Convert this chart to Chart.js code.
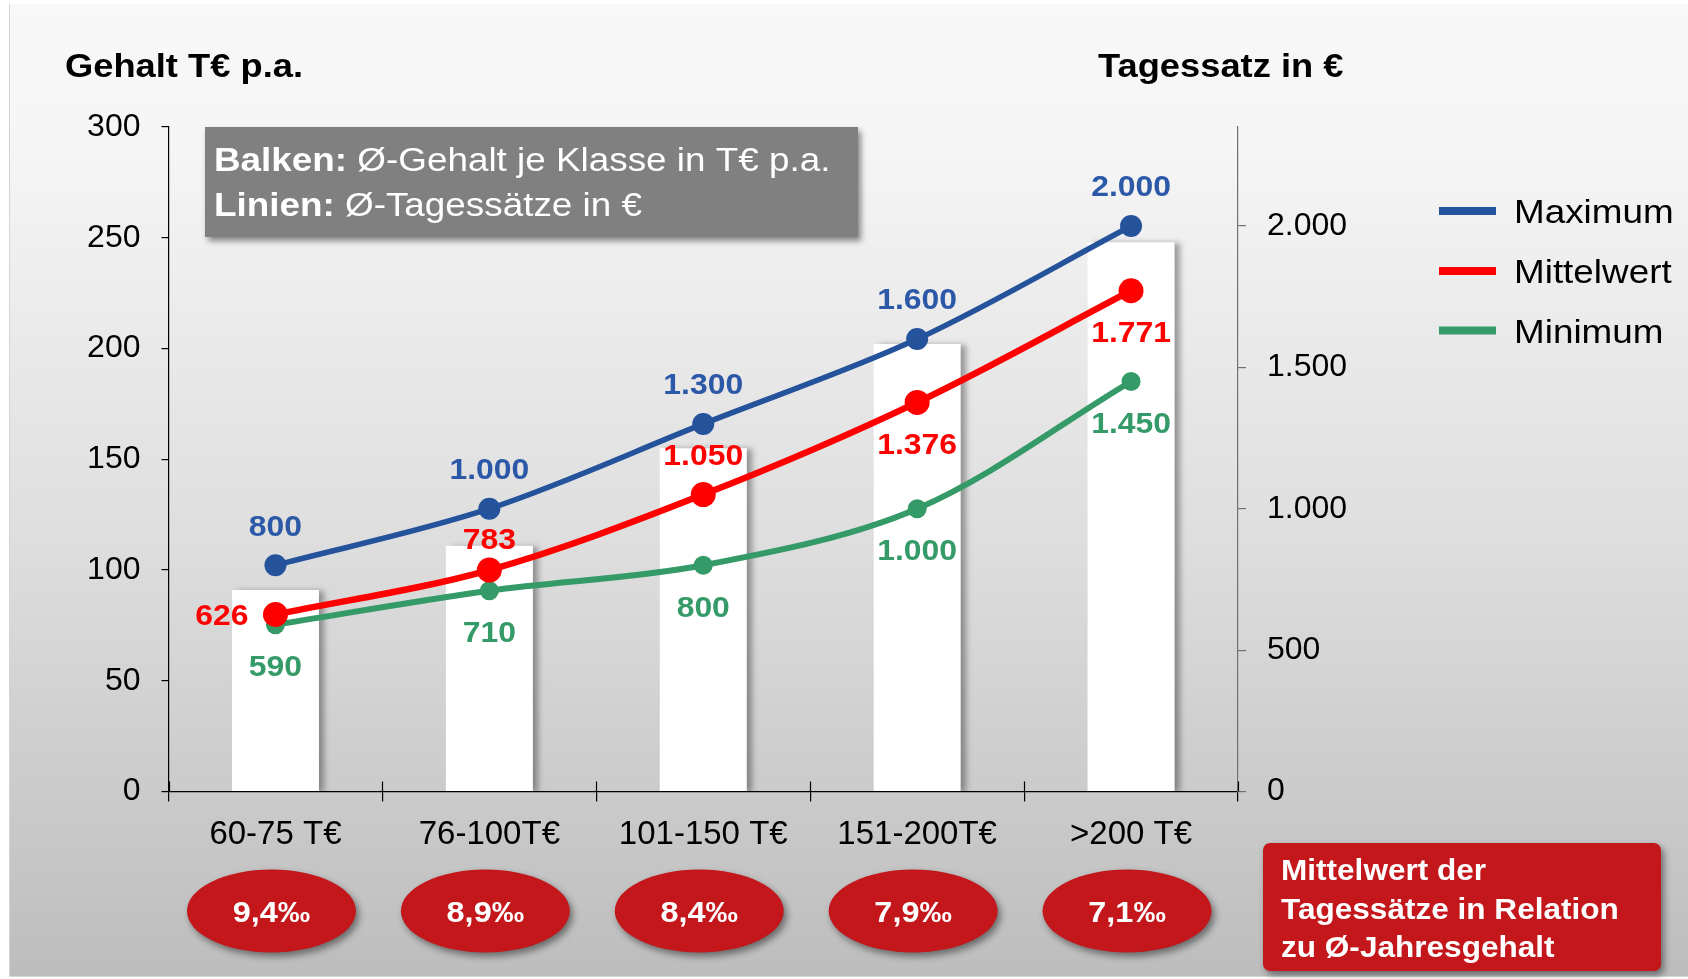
<!DOCTYPE html>
<html>
<head>
<meta charset="utf-8">
<script src="https://cdn.jsdelivr.net/npm/chart.js@4.4.1/dist/chart.umd.min.js"></script>
<style>
  html, body { margin: 0; padding: 0; background: #ffffff; }
  #wrap { width: 1688px; height: 979px; }
  canvas { display: block; }
</style>
</head>
<body>
<div id="wrap"><canvas id="c" width="1688" height="979"></canvas></div>
<script>
// ---- data ----
const categories = ['60-75 T€', '76-100T€', '101-150 T€', '151-200T€', '>200 T€'];
const salaryBars = [91, 111, 155, 202, 248];          // Ø-Gehalt je Klasse in T€ p.a.
const maxRates   = [800, 1000, 1300, 1600, 2000];     // Tagessatz Maximum
const meanRates  = [626, 783, 1050, 1376, 1771];      // Tagessatz Mittelwert
const minRates   = [590, 710, 800, 1000, 1450];       // Tagessatz Minimum
const ratioPermille = [9.4, 8.9, 8.4, 7.9, 7.1];      // Mittelwert Tagessatz / Ø-Jahresgehalt in ‰
const leftTicks  = [0, 50, 100, 150, 200, 250, 300];
const rightTicks = [0, 500, 1000, 1500, 2000];
const leftAxisTitle = 'Gehalt T€ p.a.';
const rightAxisTitle = 'Tagessatz in €';
const boxLines = [['Balken:', ' Ø-Gehalt je Klasse in T€ p.a.'], ['Linien:', ' Ø-Tagessätze in €']];
const noteLines = ['Mittelwert der', 'Tagessätze in Relation', 'zu Ø-Jahresgehalt'];

// label placement per point (style, not data)
const maxLabelPos  = ['above', 'above', 'above', 'above', 'above'];
const meanLabelPos = ['left', 'aboveNear', 'above', 'below', 'below'];
const minLabelPos  = ['below', 'below', 'below', 'below', 'below'];

const FONT = '"Liberation Sans", Arial, Helvetica, sans-serif';
const SX = 1.1; // horizontal text stretch of the original
const fmt = v => String(v).replace(/\B(?=(\d{3})+(?!\d))/g, '.');
const fmtPermille = v => v.toFixed(1).replace('.', ',') + '‰';

const BLUE = '#24529b', BLUE_TXT = '#2c58a8';
const RED = '#ff0000';
const GREEN = '#349a67';
const DARKRED = '#c3171b';

function sText(ctx, txt, x, y, font, color, align) {
  ctx.save();
  ctx.font = font;
  ctx.fillStyle = color;
  ctx.textBaseline = 'alphabetic';
  ctx.translate(x, y);
  ctx.scale(SX, 1);
  const w = ctx.measureText(txt).width;
  let dx = 0;
  if (align === 'center') dx = -w / 2;
  else if (align === 'right') dx = -w;
  ctx.fillText(txt, dx, 0);
  ctx.restore();
  return w * SX;
}

const bgPlugin = {
  id: 'bg',
  beforeDraw(chart) {
    const c = chart.ctx, W = chart.width, H = chart.height;
    c.save();
    c.fillStyle = '#ffffff';
    c.fillRect(0, 0, W, H);
    const g = c.createLinearGradient(0, 4, 0, 976);
    g.addColorStop(0, '#f8f8f8');
    g.addColorStop(0.15, '#f5f5f5');
    g.addColorStop(0.55, '#dedede');
    g.addColorStop(1, '#bdbdbd');
    c.fillStyle = g;
    c.fillRect(9, 4, W - 9, 972);
    c.strokeStyle = '#d4d4d4';
    c.lineWidth = 1;
    c.beginPath();
    c.moveTo(9.5, 4); c.lineTo(9.5, 976.5); c.lineTo(W, 976.5);
    c.stroke();
    c.restore();
  }
};

const barShadow = {
  id: 'barShadow',
  beforeDatasetDraw(chart, args) {
    if (chart.data.datasets[args.index].type === 'bar') {
      const c = chart.ctx;
      c.save();
      c.shadowColor = 'rgba(0,0,0,0.35)';
      c.shadowBlur = 6;
      c.shadowOffsetX = 5;
      c.shadowOffsetY = 1;
    }
  },
  afterDatasetDraw(chart, args) {
    if (chart.data.datasets[args.index].type === 'bar') chart.ctx.restore();
  }
};

const decor = {
  id: 'decor',
  afterDatasetsDraw(chart) {
    const c = chart.ctx;
    // data labels
    chart.data.datasets.forEach((ds, di) => {
      if (!ds.labelPos) return;
      const meta = chart.getDatasetMeta(di);
      const size = 29;
      const font = 'bold ' + size + 'px ' + FONT;
      meta.data.forEach((pt, i) => {
        const pos = ds.labelPos[i];
        const txt = fmt(ds.data[i]);
        let x = pt.x, cy = pt.y, align = 'center';
        if (pos === 'above') cy = pt.y - 40;
        else if (pos === 'aboveNear') cy = pt.y - 31;
        else if (pos === 'below') cy = pt.y + 41;
        else if (pos === 'left') { x = pt.x - 27; align = 'right'; }
        sText(c, txt, x, cy + 0.358 * size, font, ds.labelColor, align);
      });
    });
  },
  afterDraw(chart) {
    const c = chart.ctx;
    const xs = chart.scales.x, area = chart.chartArea;
    // inner half of x tick marks
    c.save();
    c.strokeStyle = '#000';
    c.lineWidth = 1.2;
    const n = categories.length;
    for (let i = 0; i <= n; i++) {
      const x = Math.round(xs.left + i * (xs.width / n)) + 0.5;
      c.beginPath(); c.moveTo(x, area.bottom - 10); c.lineTo(x, area.bottom); c.stroke();
    }
    c.restore();

    // axis titles
    sText(c, leftAxisTitle, 65, 77, 'bold 33px ' + FONT, '#000', 'left');
    sText(c, rightAxisTitle, 1098, 77, 'bold 33px ' + FONT, '#000', 'left');

    // annotation box
    c.save();
    c.shadowColor = 'rgba(0,0,0,0.45)';
    c.shadowBlur = 6; c.shadowOffsetX = 3; c.shadowOffsetY = 4;
    c.fillStyle = '#808080';
    c.fillRect(205, 127, 653, 110);
    c.restore();
    const bBase = [171, 216];
    boxLines.forEach((ln, i) => {
      const w = sText(c, ln[0], 214, bBase[i], 'bold 33.5px ' + FONT, '#ffffff', 'left');
      sText(c, ln[1], 214 + w, bBase[i], '33.5px ' + FONT, '#ffffff', 'left');
    });

    // legend
    const legendDs = chart.data.datasets.filter(d => d.type === 'line');
    const legY = [211, 271, 330.5];
    legendDs.forEach((d, i) => {
      c.fillStyle = d.borderColor;
      c.fillRect(1439, legY[i] - 4, 57, 8);
      sText(c, d.label, 1514, legY[i] + 12, '33.5px ' + FONT, '#000', 'left');
    });

    // ellipses with ratios
    ratioPermille.forEach((v, i) => {
      const cx = xs.getPixelForValue(i) - 4;
      const cy = 911;
      c.save();
      c.shadowColor = 'rgba(0,0,0,0.45)';
      c.shadowBlur = 7; c.shadowOffsetX = 3; c.shadowOffsetY = 4;
      c.fillStyle = DARKRED;
      c.beginPath();
      c.ellipse(cx, cy, 84.5, 41.5, 0, 0, Math.PI * 2);
      c.fill();
      c.restore();
      sText(c, fmtPermille(v), cx, cy + 10.5, 'bold 29.5px ' + FONT, '#ffffff', 'center');
    });

    // note box
    c.save();
    c.shadowColor = 'rgba(0,0,0,0.45)';
    c.shadowBlur = 7; c.shadowOffsetX = 3; c.shadowOffsetY = 4;
    c.fillStyle = DARKRED;
    c.beginPath();
    if (c.roundRect) c.roundRect(1263, 843, 398, 128, 7); else c.rect(1263, 843, 398, 128);
    c.fill();
    c.restore();
    const nBase = [880, 919, 957];
    noteLines.forEach((t, i) => sText(c, t, 1281, nBase[i], 'bold 28.7px ' + FONT, '#ffffff', 'left'));
  }
};

Chart.defaults.font.family = FONT;
Chart.defaults.color = '#000';

new Chart(document.getElementById('c'), {
  data: {
    labels: categories,
    datasets: [
      { type: 'line', label: 'Maximum', data: maxRates, yAxisID: 'y2', order: 3,
        borderColor: BLUE, backgroundColor: BLUE, borderWidth: 5.5, tension: 0.33,
        pointRadius: 11, pointBackgroundColor: BLUE, pointBorderWidth: 0,
        labelPos: maxLabelPos, labelColor: BLUE_TXT },
      { type: 'line', label: 'Mittelwert', data: meanRates, yAxisID: 'y2', order: 1,
        borderColor: RED, backgroundColor: RED, borderWidth: 6.5, tension: 0.33,
        pointRadius: 12.5, pointBackgroundColor: RED, pointBorderWidth: 0,
        labelPos: meanLabelPos, labelColor: RED },
      { type: 'line', label: 'Minimum', data: minRates, yAxisID: 'y2', order: 2,
        borderColor: GREEN, backgroundColor: GREEN, borderWidth: 6, tension: 0.33,
        pointRadius: 9.5, pointBackgroundColor: GREEN, pointBorderWidth: 0,
        labelPos: minLabelPos, labelColor: GREEN },
      { type: 'bar', label: 'Ø-Gehalt', data: salaryBars, yAxisID: 'y', order: 10,
        backgroundColor: '#ffffff', borderWidth: 0,
        categoryPercentage: 1.0, barPercentage: 0.407 }
    ]
  },
  options: {
    responsive: false,
    animation: false,
    devicePixelRatio: 1,
    layout: { padding: { top: 127, left: 0, right: 0, bottom: 0 } },
    plugins: { legend: { display: false }, tooltip: { enabled: false }, title: { display: false } },
    scales: {
      x: {
        type: 'category',
        offset: true,
        grid: { offset: true, drawOnChartArea: false, tickLength: 10, color: '#000', lineWidth: 1.2 },
        border: { color: '#000', width: 1.2 },
        ticks: { font: { size: 33 }, color: '#000', padding: 14, maxRotation: 0, autoSkip: false },
        afterFit: s => { s.height = 187.5; }
      },
      y: {
        position: 'left', min: 0, max: 300,
        ticks: { padding: 21, font: { size: 32 }, color: '#000', autoSkip: false },
        afterBuildTicks: s => { s.ticks = leftTicks.map(v => ({ value: v })); },
        grid: { drawOnChartArea: false, tickLength: 7, color: '#000', lineWidth: 1.2 },
        border: { color: '#000', width: 1.2 },
        afterFit: s => { s.width = 168.5; }
      },
      y2: {
        position: 'right', min: 0, max: 2350,
        ticks: { padding: 21, font: { size: 32 }, color: '#000', autoSkip: false, callback: v => fmt(v) },
        afterBuildTicks: s => { s.ticks = rightTicks.map(v => ({ value: v })); },
        grid: { drawOnChartArea: false, tickLength: 8, color: '#707070', lineWidth: 1.2 },
        border: { color: '#707070', width: 1.2 },
        afterFit: s => { s.width = 450; }
      }
    }
  },
  plugins: [bgPlugin, barShadow, decor]
});
</script>
</body>
</html>
